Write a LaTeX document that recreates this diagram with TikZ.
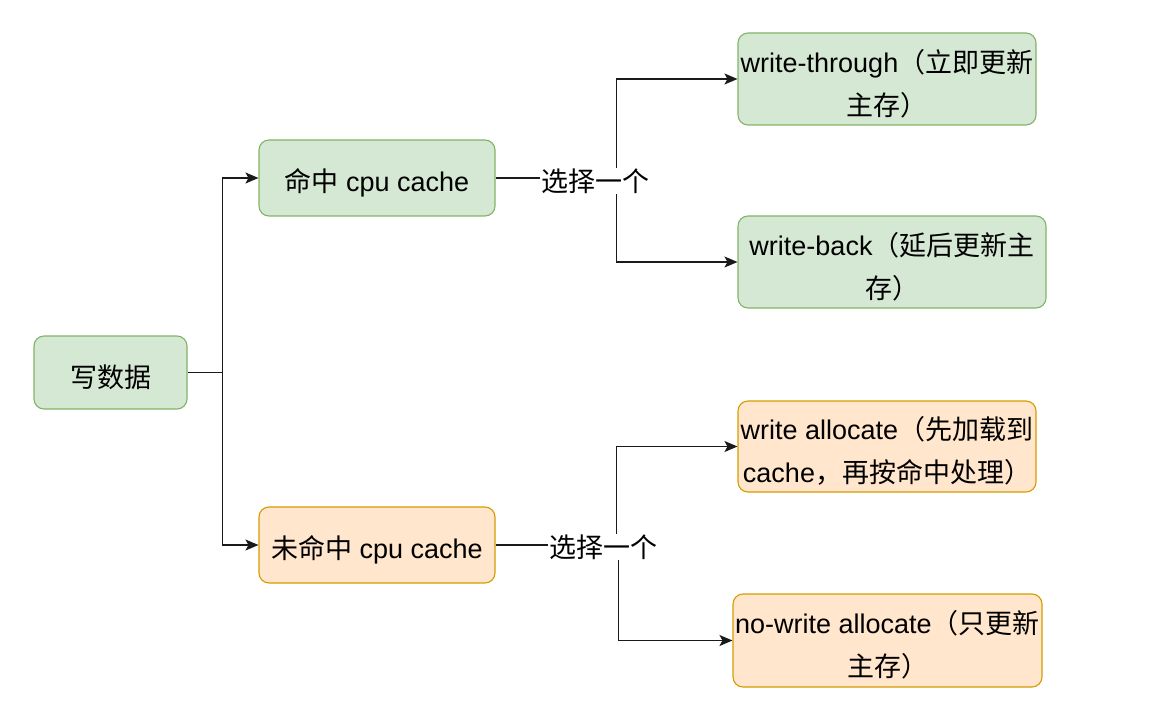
\documentclass[tikz,border=0pt]{standalone}
\usepackage{fontspec}
\setmainfont{Liberation Sans}
\newfontfamily\cjk{Noto Sans CJK SC}
\usetikzlibrary{arrows.meta}
\definecolor{gfill}{HTML}{D5E8D4}
\definecolor{gline}{HTML}{82B366}
\definecolor{ofill}{HTML}{FFE6CC}
\definecolor{oline}{HTML}{D79B00}
\definecolor{edge}{HTML}{1A1A1A}
\newcommand\lift{\rule{0pt}{32pt}}
\tikzset{
  box/.style={rectangle, rounded corners=10pt, line width=1.1pt, align=center, inner sep=0pt,
    font=\fontsize{27}{43}\selectfont},
  gbox/.style={box, fill=gfill, draw=gline},
  obox/.style={box, fill=ofill, draw=oline},
  arr/.style={draw=edge, line width=1.3pt, -{Stealth[length=13pt,width=11pt,inset=3pt]}},
  lbl/.style={fill=white, inner sep=1pt, font=\fontsize{27}{30}\selectfont\cjk}
}
\begin{document}
\begin{tikzpicture}[x=1pt,y=-1pt]
\useasboundingbox (0,0) rectangle (1169,727);
\node[gbox, minimum width=153pt, minimum height=73pt] (wr) at (110.5,372.5) {\lift{\cjk 写数据}};
\node[gbox, minimum width=236pt, minimum height=76pt] (hit) at (377,178) {\lift{\cjk 命中} cpu cache};
\node[obox, minimum width=236pt, minimum height=76pt] (miss) at (377,545) {\lift{\cjk 未命中} cpu cache};
\node[gbox, minimum width=298pt, minimum height=92pt] (wt) at (887,79) {\lift write-through{\cjk （立即更新}\\{\cjk 主存）}};
\node[gbox, minimum width=308pt, minimum height=92pt] (wb) at (892,262) {\lift write-back{\cjk （延后更新主}\\{\cjk 存）}};
\node[obox, minimum width=298pt, minimum height=91pt] (wa) at (887,446.5) {\lift write allocate{\cjk （先加载到}\\cache{\cjk ，再按命中处理）}};
\node[obox, minimum width=309pt, minimum height=93pt] (nwa) at (887.5,640.5) {\lift no-write allocate{\cjk （只更新}\\{\cjk 主存）}};

\draw[arr] (wr.east) -- ++(35,0) |- (hit.west);
\draw[arr] (wr.east) -- ++(35,0) |- (miss.west);

\draw[arr] (hit.east) -- ++(121,0) |- (wt.west);
\draw[arr] (hit.east) -- ++(121,0) |- (wb.west);
\node[lbl] (l1) at (595,181) {选择一个};

\draw[arr] (miss.east) -- ++(121,0) |- (wa.west);
\draw[arr] (miss.east) -- ++(123,0) |- (nwa.west);
\node[lbl] (l2) at (603,547) {选择一个};
\end{tikzpicture}
\end{document}
